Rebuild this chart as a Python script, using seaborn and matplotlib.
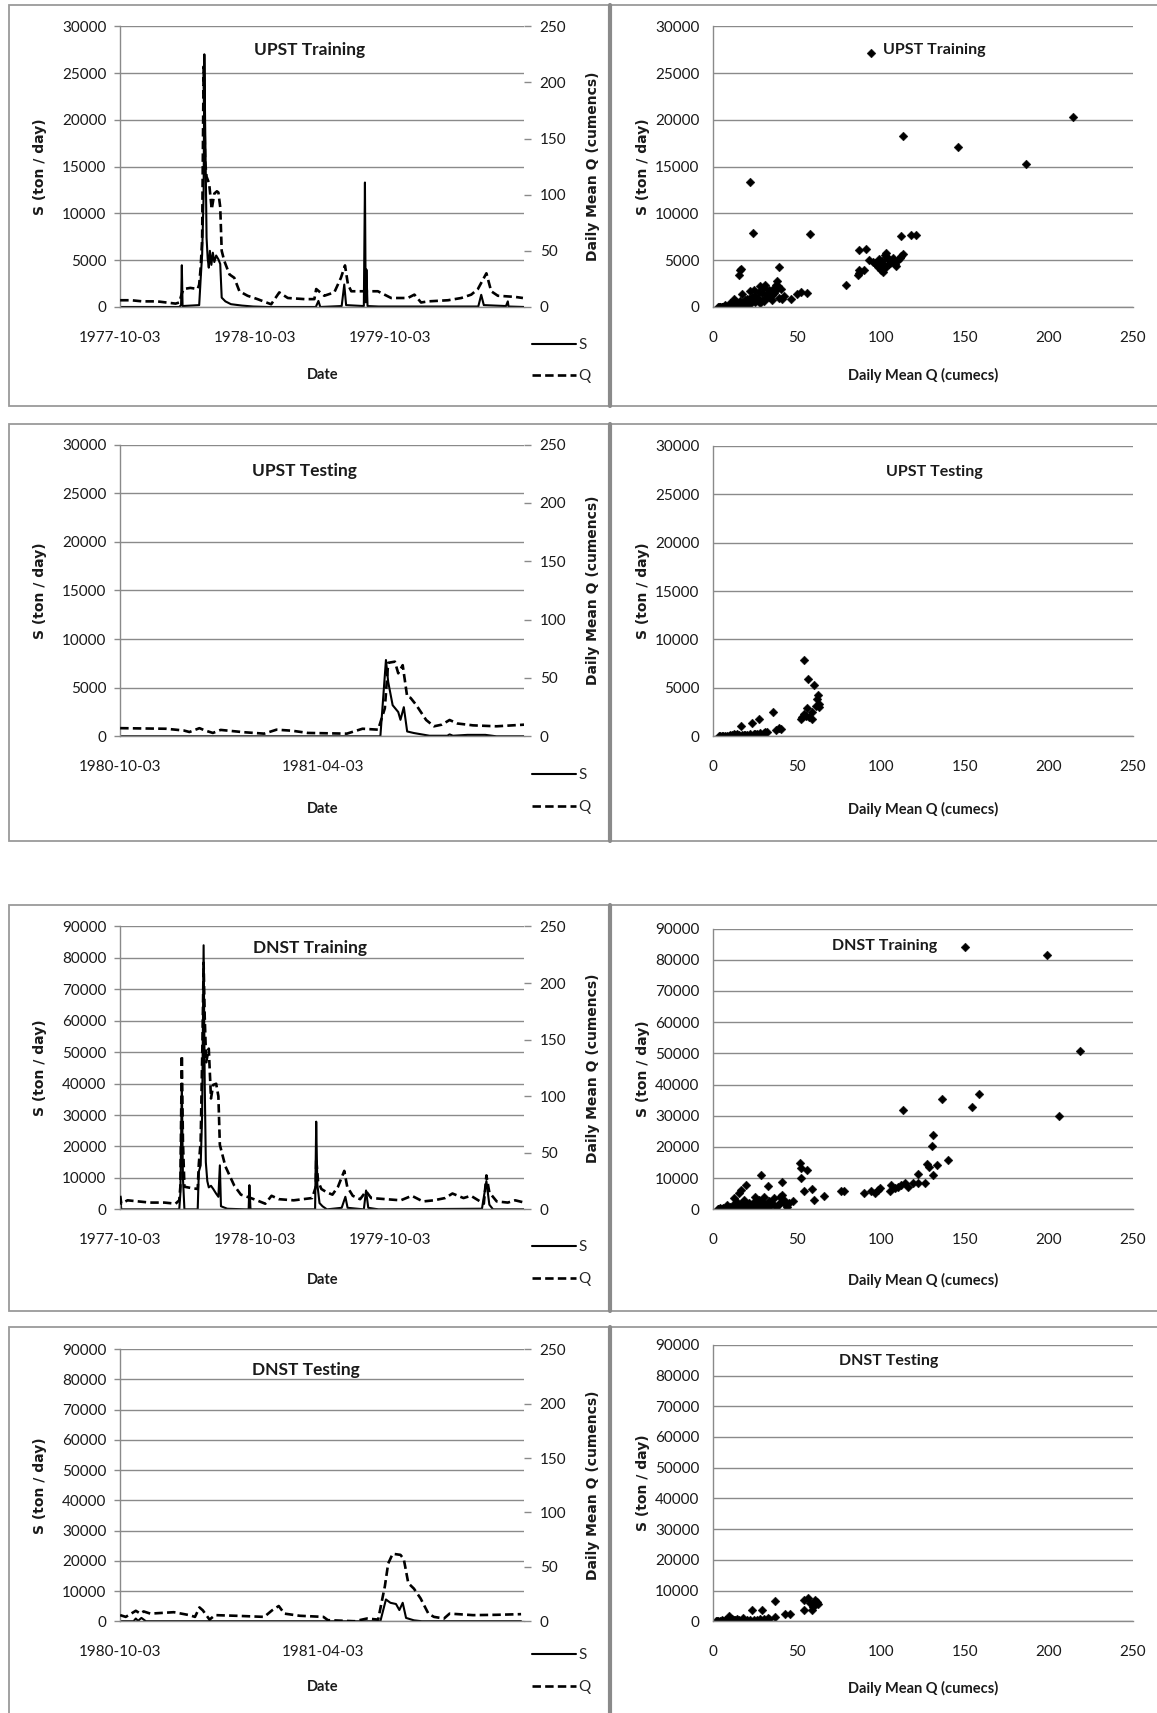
import numpy as np
import pandas as pd
import matplotlib
matplotlib.use("Agg")
import matplotlib.pyplot as plt
import seaborn as sns
from matplotlib.patches import Rectangle
from matplotlib.lines import Line2D

sns.set_theme(style="white")
plt.rcParams['font.family'] = ['Lato', 'DejaVu Sans']

# ---------------- DATA ----------------
train_start = "1977-10-03"
test_start = "1980-10-03"
train_ticks = ["1977-10-03", "1978-10-03", "1979-10-03"]
test_ticks = ["1980-10-03", "1981-04-03"]
train_span_days = 1095
test_span_days = 362

# UPST training time series (day offset, value)
upst_tr_s_day = [0, 160, 165, 167, 169, 214, 218, 222, 226, 228, 230, 232, 234, 237, 240, 243, 247, 251, 255, 260,
                 266, 271, 275, 285, 300, 330, 360, 400, 530, 537, 542, 600, 607, 612, 660, 663, 665, 667, 670, 700,
                 970, 978, 985, 1045, 1050, 1052, 1095]
upst_tr_s_val = [0, 0, 200, 4460, 100, 200, 3000, 5600, 12000, 27000, 20000, 14000, 7400, 5200, 4200, 6000, 4500, 5800, 4800, 5500,
                 5100, 4600, 1000, 600, 300, 150, 50, 0, 0, 650, 0, 100, 2400, 200, 100, 13300, 500, 4000, 100, 50,
                 50, 1300, 200, 100, 600, 50, 0]
upst_tr_q_day = [0, 30, 60, 100, 150, 160, 167, 172, 190, 210, 214, 218, 222, 226, 230, 234, 241, 248, 255, 262, 266, 271,
                 275, 282, 296, 309, 323, 345, 372, 409, 431, 454, 500, 526, 531, 553, 580, 598, 609, 617, 626, 662, 698,
                 734, 779, 797, 815, 834, 888, 924, 951, 969, 992, 1005, 1023, 1069, 1091]
upst_tr_q_val = [6, 6, 5, 5, 3, 4, 12, 16, 17, 16, 20, 35, 60, 214, 130, 116, 110, 87, 101, 103, 102, 89,
                 50, 41, 29, 26, 14, 10, 7, 2.4, 13, 8, 7, 7, 16, 10, 13, 26, 37, 20, 14, 14, 14,
                 8, 8, 11, 4, 5, 6, 8, 11, 16, 30, 14, 10, 9, 8]

# UPST testing time series
upst_te_s_day = [0, 233, 238, 240, 244, 249, 251, 254, 257, 263, 277, 293, 295, 298, 311, 327, 337, 362]
upst_te_s_val = [0, 0, 7850, 5600, 3200, 2500, 1700, 3000, 500, 340, 60, 60, 200, 60, 150, 150, 0, 0]
upst_te_q_day = [0, 41, 57, 62, 71, 76, 83, 90, 111, 129, 140, 154, 168, 203, 217, 231, 237, 240, 246, 249,
                 253, 257, 260, 265, 274, 281, 288, 295, 302, 316, 337, 362]
upst_te_q_val = [7, 6.5, 5, 3.7, 7, 5, 2.9, 5.5, 3.5, 2.3, 5.7, 4.8, 2.9, 2.3, 6.5, 5.7, 24, 63, 64, 54,
                 61, 34, 33, 27, 14, 8.6, 10, 14, 11, 9.4, 8.6, 10]

# DNST training time series
dnst_tr_s_day = [0, 3, 160, 163, 167, 170, 174, 210, 213, 218, 222, 226, 229, 232, 236, 240, 246, 252, 260, 266,
                 270, 273, 290, 340, 348, 350, 353, 528, 531, 534, 540, 548, 560, 600, 610, 616, 660, 666, 672, 700,
                 980, 992, 1000, 1010, 1095]
dnst_tr_s_val = [4000, 0, 0, 5000, 40000, 10000, 0, 0, 12000, 14000, 30000, 84000, 40000, 15000, 9000, 7000, 7500, 6500, 5000, 4000,
                 14000, 1000, 200, 0, 0, 7700, 0, 0, 27900, 8000, 2000, 1000, 0, 500, 4000, 500, 0, 6000, 500, 0,
                 200, 9000, 1500, 0, 0]
dnst_tr_q_day = [0, 3, 20, 50, 80, 120, 150, 160, 163, 167, 170, 174, 190, 210, 213, 218, 223, 226, 229, 233, 240, 246,
                 252, 260, 266, 270, 285, 309, 327, 354, 370, 393, 410, 430, 470, 520, 530, 531, 536, 545, 560, 575,
                 590, 607, 615, 630, 650, 666, 680, 720, 760, 790, 820, 850, 880, 900, 930, 950, 970, 985, 992,
                 1000, 1020, 1050, 1070, 1095]
dnst_tr_q_val = [12, 5, 8, 7, 6, 6, 5, 8, 20, 136, 60, 20, 19, 18, 40, 60, 150, 218, 170, 130, 142, 98,
                 110, 111, 100, 57, 38, 21, 13, 10, 8, 5, 12, 9, 8, 10, 20, 45, 25, 18, 15, 13,
                 20, 34, 20, 12, 9, 16, 10, 9, 8, 12, 7, 8, 10, 14, 10, 12, 8, 5, 30,
                 15, 7, 6, 8, 6]

# DNST testing time series
dnst_te_s_day = [0, 12, 14, 16, 19, 23, 233, 238, 242, 247, 250, 253, 256, 263, 270, 359]
dnst_te_s_val = [0, 0, 900, 100, 1100, 0, 0, 7200, 6100, 5700, 3700, 6100, 1100, 300, 0, 0]
dnst_te_q_day = [0, 5, 14, 18, 21, 27, 48, 62, 67, 71, 74, 80, 85, 104, 129, 136, 142, 147, 161, 182, 186,
                 210, 221, 231, 237, 240, 244, 251, 254, 258, 263, 269, 276, 281, 290, 295, 316, 337, 359]
dnst_te_q_val = [5.6, 4, 9.6, 7, 9, 7, 8.3, 5.6, 4, 12.7, 10, 1.5, 5.6, 5, 4, 10, 14, 7, 5, 4, 1,
                 0, 2.5, 1.5, 32, 53, 62, 61, 57, 35, 30, 21, 7, 4, 2.5, 7, 5.6, 5.9, 6.5]

# Scatter: UPST training (Q cumecs, S ton/day)
upst_tr_sc_q = [94, 21.5, 23.8, 57.4, 16.5, 16, 15.2, 39, 113, 145.6, 186, 214, 112, 118, 121, 79, 87, 91, 87, 86, 90, 86.5,
                93, 95, 96, 97, 98, 99, 100, 101, 101.5, 102, 103, 103.5, 104, 105, 106, 107, 108, 109, 110, 111, 112, 113,
                100.5, 98.5, 102.5, 104.5,
                46, 50, 52, 55.5, 38, 37, 38.5, 40, 36, 35, 33, 30, 28, 27, 25, 24, 22, 20, 18, 17, 15, 12, 13, 10,
                8, 6, 5, 4, 3, 7, 9, 11, 14, 16, 19, 21, 23, 26, 29, 31, 32, 34, 39, 41, 35, 30, 28, 25, 22, 20,
                18, 16, 14, 12, 11, 9, 8, 6, 5, 4, 3.5, 7, 10, 13, 27, 33, 36, 31, 24, 42, 37]
upst_tr_sc_s = [27100, 13400, 7900, 7850, 4100, 3950, 3400, 4300, 18300, 17100, 15250, 20350, 7550, 7650, 7700, 2400, 6070, 6200, 3900, 3400, 4000, 3600,
                5000, 4800, 4700, 4600, 4300, 4800, 4000, 3700, 4500, 5600, 5800, 5300, 5100, 4700, 4900, 5200, 4600, 4400, 5000, 5200, 5500, 5700,
                4900, 5100, 4200, 4600,
                900, 1400, 1600, 1500, 2800, 2400, 2200, 1900, 2000, 1300, 1800, 2000, 2200, 1600, 1200, 1000, 1700, 800, 500, 1400, 300, 800, 200, 100,
                50, 30, 10, 0, 20, 80, 150, 250, 400, 600, 700, 900, 1100, 800, 1500, 1000, 1400, 1600, 1000, 800, 700, 600, 400, 500, 300, 250,
                200, 150, 120, 100, 60, 40, 20, 10, 50, 30, 10, 200, 400, 600, 900, 1100, 1500, 2300, 1800, 1200, 1800]

# Scatter: UPST testing
upst_te_sc_q = [53.8, 56.5, 59.7, 62.2, 62, 63, 61, 63, 59, 59, 56, 55, 53, 52, 54, 57, 35.4, 27.4, 23.2, 16.7,
                39, 37, 40, 31, 32, 30, 28, 26, 25, 22, 20, 18, 15, 13, 11, 10, 9, 8, 7, 6, 5, 4, 3.5, 12, 14, 17, 19, 24]
upst_te_sc_s = [7840, 5900, 5300, 4300, 3900, 3300, 3100, 3000, 2530, 1750, 2970, 2100, 2000, 1800, 2300, 2000, 2530, 1800, 1350, 1080,
                850, 700, 800, 400, 450, 350, 300, 250, 200, 200, 150, 150, 150, 120, 100, 150, 80, 60, 50, 40, 30, 20, 10, 200, 250, 100, 180, 220]

# Scatter: DNST training
dnst_tr_sc_q = [150.2, 198.5, 218.6, 206, 113, 136, 154, 158, 131, 130, 140, 133, 127, 128.7, 131, 122, 126, 122, 119, 116,
                114, 112, 110, 108, 106, 105, 99, 98, 96, 94, 90, 78, 76, 66, 59, 60, 54, 56, 52, 52, 51.5, 47.5,
                40.7, 41, 39.7, 32.5, 28.5, 25, 19.6, 16.5, 15,
                45, 43, 42, 40, 38, 36, 35, 34, 33, 31, 30, 29, 28, 27, 26, 24, 23, 22, 21, 20, 19, 18, 17, 16, 14,
                13, 12, 11, 10, 9, 8, 7, 6, 5, 4, 3, 2.5, 37, 32, 25, 22, 18, 14, 12, 10, 8, 6, 4, 30, 27, 44, 39]
dnst_tr_sc_s = [84200, 81500, 50700, 30000, 31800, 35300, 32900, 37100, 23800, 20200, 15700, 14300, 14600, 13600, 10900, 11200, 8500, 8300, 8300, 7200,
                8300, 7750, 7200, 6700, 7750, 5800, 6700, 6200, 5400, 5900, 5300, 5800, 5900, 4200, 6500, 3000, 5800, 12500, 10200, 13400, 14900, 2760,
                8800, 4600, 4000, 7500, 10900, 4000, 7750, 6200, 5100,
                2000, 1500, 3000, 2500, 1200, 3500, 2000, 1000, 2800, 1600, 4000, 2200, 800, 3000, 1500, 2500, 1200, 900, 2000, 1400, 700, 3000, 2200, 1100, 2500,
                600, 1800, 400, 900, 300, 1500, 200, 500, 100, 300, 50, 0, 700, 500, 600, 400, 1000, 300, 3500, 200, 100, 80, 20, 1200, 2600, 900, 1800]

# Scatter: DNST testing
dnst_te_sc_q = [36.6, 23, 28.7, 42.9, 45.4, 53.8, 56.5, 57.5, 59.6, 59, 54, 62, 62.3, 60.7, 59.2, 36.6, 32.4, 26, 17.8, 9.4,
                3, 4, 5, 6, 7, 8, 10, 12, 14, 15, 20, 22, 24, 28, 30, 33, 2, 1.5, 11, 13]
dnst_te_sc_s = [6700, 3600, 3600, 2300, 2500, 6900, 7500, 5800, 4700, 3600, 3800, 6400, 5600, 6900, 5300, 1400, 900, 550, 900, 1650,
                100, 200, 300, 150, 400, 250, 500, 300, 600, 350, 400, 500, 300, 600, 700, 800, 50, 20, 800, 450]

# ---------------- FIGURE ----------------
fig = plt.figure(figsize=(11.57, 17.13), dpi=100)
W, H = 1059.0, 1568.0


def pos(x0, x1, y0, y1):
    return [x0 / W, 1 - y1 / H, (x1 - x0) / W, (y1 - y0) / H]


GRID = '#8a8a8a'
TXT = '#1a1a1a'
TICK_FS = 11
LAB_FS = 10.5
VLAB_FS = 10
VLAB_FAMILY = ['DejaVu Sans']
TITLE_FS = 12.5
SC_TITLE_FS = 11.5

# panel borders
BORDER = '#9a9a9a'
for (y0, y1) in [(5, 372), (388, 770), (828, 1200), (1215, 1575)]:
    fig.add_artist(Rectangle((8 / W, 1 - y1 / H), (558 - 8) / W, (y1 - y0) / H, transform=fig.transFigure,
                             fill=False, edgecolor=BORDER, linewidth=1.3))
    fig.add_artist(Rectangle((558 / W, 1 - y1 / H), (1070 - 558) / W, (y1 - y0) / H, transform=fig.transFigure,
                             fill=False, edgecolor=BORDER, linewidth=1.3))
    fig.add_artist(Line2D([558 / W, 558 / W], [1 - y1 / H, 1 - y0 / H], transform=fig.transFigure,
                          color='#8a8a8a', linewidth=3))


def base_style(ax, ymax, ystep):
    ax.set_ylim(0, ymax)
    yt = list(range(0, ymax + 1, ystep))
    ax.set_yticks(yt)
    ax.set_yticklabels([str(v) for v in yt])
    ax.yaxis.grid(True, color=GRID, linewidth=1.0)
    ax.xaxis.grid(False)
    for sp in ['top', 'right']:
        ax.spines[sp].set_visible(False)
    for sp in ['left', 'bottom']:
        ax.spines[sp].set_color(GRID)
        ax.spines[sp].set_linewidth(1.0)
    ax.tick_params(axis='both', labelsize=TICK_FS, colors=GRID, labelcolor=TXT, length=4, width=1, direction='out')
    ax.tick_params(axis='y', pad=6)
    ax.tick_params(axis='x', pad=13)
    ax.set_facecolor('none')


def ts_panel(rect, start, span, ticks, s_day, s_val, q_day, q_val, ymax, ystep, title, txy, xlab_y, leg_y):
    ax = fig.add_axes(rect)
    ax2 = ax.twinx()
    t0 = pd.Timestamp(start)
    ds = pd.DataFrame({'date': t0 + pd.to_timedelta(s_day, unit='D'), 'S': s_val})
    dq = pd.DataFrame({'date': t0 + pd.to_timedelta(q_day, unit='D'), 'Q': q_val})
    sns.lineplot(data=ds, x='date', y='S', ax=ax, color='black', linewidth=1.5, estimator=None, legend=False)
    sns.lineplot(data=dq, x='date', y='Q', ax=ax2, color='black', linewidth=1.9, estimator=None, legend=False)
    ax2.lines[0].set_dashes([3.2, 1.6])
    base_style(ax, ymax, ystep)
    ax.set_xlim(t0, t0 + pd.Timedelta(days=span))
    ax2.set_xlim(t0, t0 + pd.Timedelta(days=span))
    tk = [pd.Timestamp(t) for t in ticks]
    ax.set_xticks(tk)
    ax.set_xticklabels(ticks)
    ax2.set_ylim(0, 250)
    ax2.set_yticks([0, 50, 100, 150, 200, 250])
    ax2.set_yticklabels(['0', '50', '100', '150', '200', '250'])
    ax2.grid(False)
    for sp in ax2.spines.values():
        sp.set_visible(False)
    ax2.tick_params(axis='y', labelsize=TICK_FS, colors=GRID, labelcolor=TXT, length=5, width=1, direction='out', pad=6)
    ax.set_ylabel('S (ton / day)', fontsize=VLAB_FS, fontweight='bold', color=TXT, family=VLAB_FAMILY)
    ax.yaxis.set_label_coords(-0.18, 0.5)
    ax2.set_ylabel('Daily Mean Q (cumencs)', fontsize=VLAB_FS, fontweight='bold', color=TXT, family=VLAB_FAMILY)
    ax2.yaxis.set_label_coords(1.152, 0.5)
    ax.set_xlabel('Date', fontsize=LAB_FS, fontweight='bold', color=TXT)
    ax.xaxis.set_label_coords(0.5, xlab_y)
    ax.text(txy[0], txy[1], title, transform=ax.transAxes, ha='center', va='center',
            fontsize=TITLE_FS, fontweight='bold', color=TXT, zorder=10)
    handles = [Line2D([], [], color='black', linewidth=1.5),
               Line2D([], [], color='black', linewidth=1.9, dashes=[3.2, 1.6])]
    ax.legend(handles, ['S', 'Q'], loc='upper left', bbox_to_anchor=(1.018, leg_y), frameon=False,
              fontsize=TICK_FS, handlelength=2.9, handletextpad=0.15, labelspacing=1.15,
              borderaxespad=0, borderpad=0)
    return ax


def sc_panel(rect, q, s, ymax, ystep, title, txy, xlab_y):
    ax = fig.add_axes(rect)
    sns.scatterplot(x=q, y=s, ax=ax, marker='D', s=20, color='black', edgecolor='black', linewidth=0.3)
    base_style(ax, ymax, ystep)
    ax.set_xlim(0, 250)
    ax.set_xticks([0, 50, 100, 150, 200, 250])
    ax.set_xticklabels(['0', '50', '100', '150', '200', '250'])
    ax.set_ylabel('S (ton / day)', fontsize=VLAB_FS, fontweight='bold', color=TXT, family=VLAB_FAMILY)
    ax.yaxis.set_label_coords(-0.152, 0.5)
    ax.set_xlabel('Daily Mean Q (cumecs)', fontsize=LAB_FS, fontweight='bold', color=TXT)
    ax.xaxis.set_label_coords(0.5, xlab_y)
    ax.text(txy[0], txy[1], title, transform=ax.transAxes, ha='center', va='center',
            fontsize=SC_TITLE_FS, fontweight='bold', color=TXT, zorder=10)
    return ax


ts_panel(pos(110, 480, 24, 281), train_start, train_span_days, train_ticks, upst_tr_s_day, upst_tr_s_val,
         upst_tr_q_day, upst_tr_q_val, 30000, 5000, 'UPST Training', (0.468, 0.914), -0.218, -0.11)
sc_panel(pos(653, 1037, 24, 281), upst_tr_sc_q, upst_tr_sc_s, 30000, 5000, 'UPST Training', (0.526, 0.914), -0.218)

ts_panel(pos(110, 480, 407, 674), test_start, test_span_days, test_ticks, upst_te_s_day, upst_te_s_val,
         upst_te_q_day, upst_te_q_val, 30000, 5000, 'UPST Testing', (0.457, 0.91), -0.225, -0.11)
sc_panel(pos(653, 1037, 408, 674), upst_te_sc_q, upst_te_sc_s, 30000, 5000, 'UPST Testing', (0.526, 0.91), -0.225)

ts_panel(pos(110, 480, 848, 1107), train_start, train_span_days, train_ticks, dnst_tr_s_day, dnst_tr_s_val,
         dnst_tr_q_day, dnst_tr_q_val, 90000, 10000, 'DNST Training', (0.470, 0.923), -0.225, -0.11)
sc_panel(pos(653, 1037, 850, 1107), dnst_tr_sc_q, dnst_tr_sc_s, 90000, 10000, 'DNST Training', (0.409, 0.938), -0.225)

ts_panel(pos(110, 480, 1235, 1484), test_start, test_span_days, test_ticks, dnst_te_s_day, dnst_te_s_val,
         dnst_te_q_day, dnst_te_q_val, 90000, 10000, 'DNST Testing', (0.459, 0.924), -0.215, -0.1)
sc_panel(pos(653, 1037, 1231, 1484), dnst_te_sc_q, dnst_te_sc_s, 90000, 10000, 'DNST Testing', (0.417, 0.94), -0.215)

fig.savefig('out.png', dpi=100, facecolor='white')
